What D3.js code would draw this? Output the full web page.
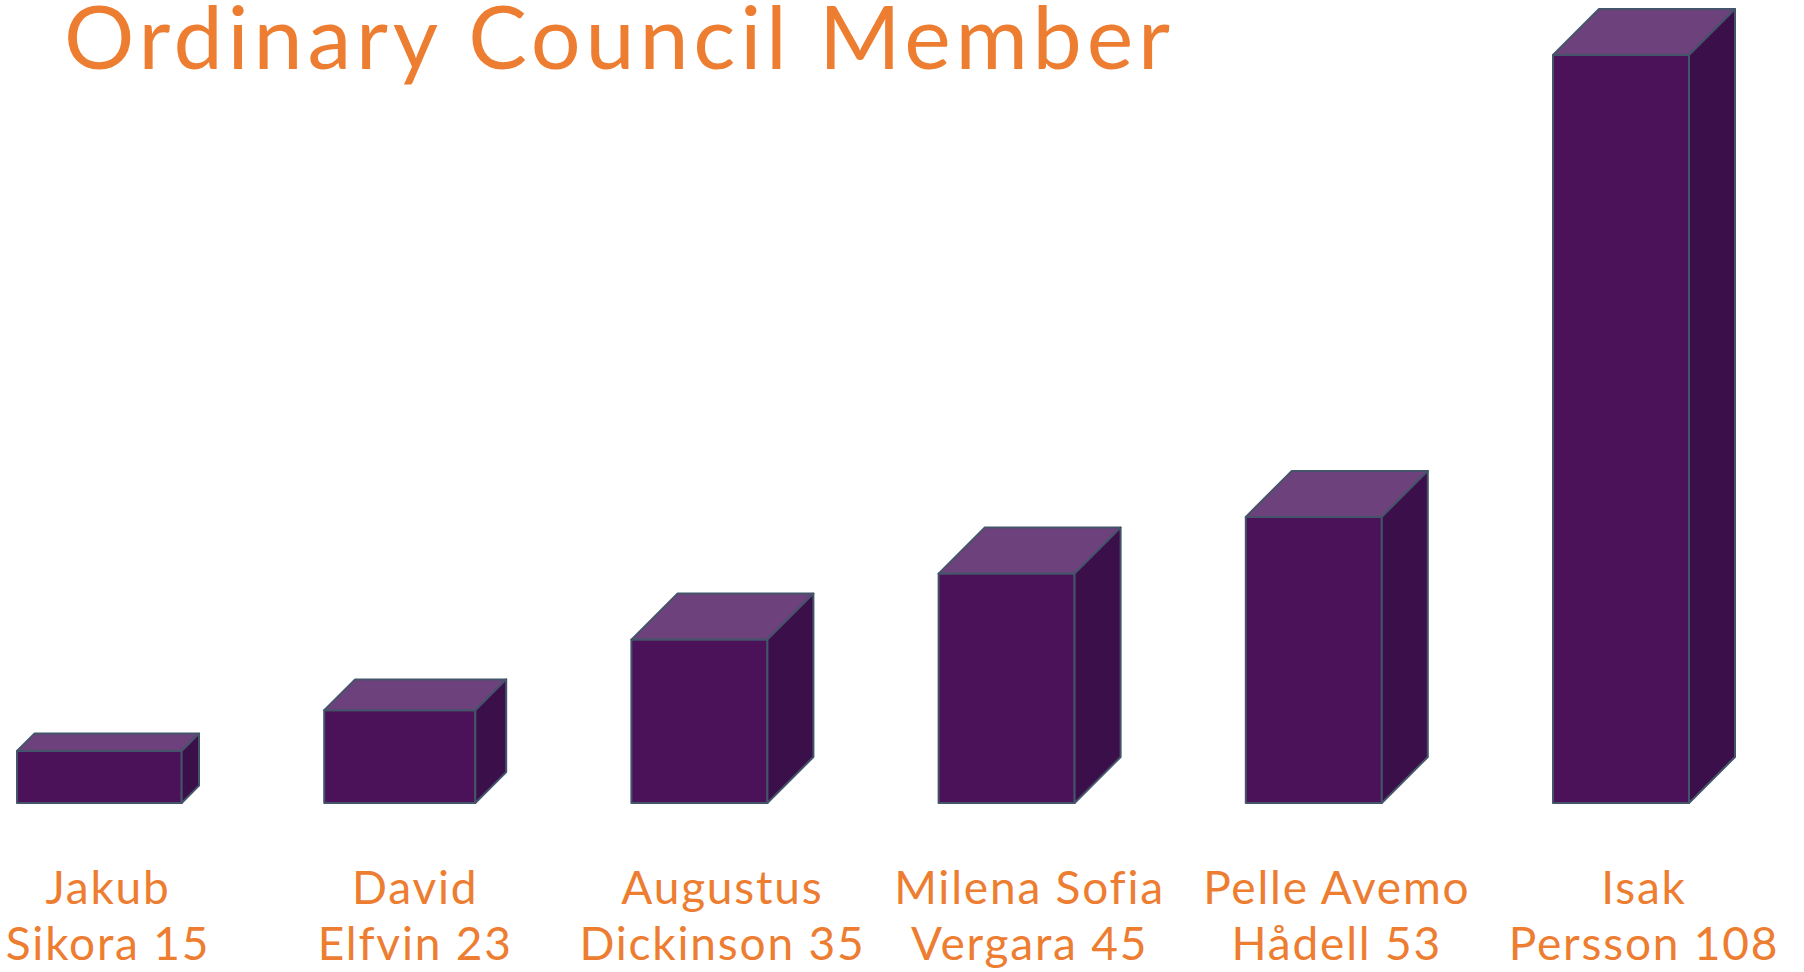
<!DOCTYPE html>
<html>
<head>
<meta charset="utf-8">
<script src="https://cdn.jsdelivr.net/npm/d3@7"></script>
<style>
  body { margin: 0; background: #fff; }
  svg { display: block; }
  .title { font-family: Lato, sans-serif; fill: #ED7D31; }
  .label { font-family: Lato, sans-serif; fill: #ED7D31; text-anchor: middle; letter-spacing: 1.8px; }
  .box path { stroke: #44546A; stroke-width: 2; stroke-linejoin: round; }
</style>
</head>
<body>
<svg class="chart"></svg>
<script>

//
// data
//

var title = "Ordinary Council Member";
var first_names = ["Jakub", "David", "Augustus", "Milena Sofia", "Pelle Avemo", "Isak"];
var last_names = ["Sikora", "Elfvin", "Dickinson", "Vergara", "Hådell", "Persson"];
var votes = [15, 23, 35, 45, 53, 108];



var width = 1804,
    height = 972;

var svg = d3.select(".chart")
    .attr("width", width)
    .attr("height", height);

var base = 803;      // floor line of the boxes
var footprint = 182; // front width + depth

// box centres
var x = d3.scalePoint()
    .domain(d3.range(votes.length))
    .range([108, 1644]);

// box heights (the slide exaggerates the big ones)
var h = d3.scalePow()
    .exponent(1.35)
    .domain([0, d3.max(votes)])
    .range([0, 748]);

function depth(v) {
    return Math.min(46, h(v) / 3);
}

var items = votes.map(function (v, i) {
    return { i: i, v: v, first: first_names[i], last: last_names[i] };
});

//
// boxes
//

var boxes = svg.selectAll("g.box")
    .data(items)
    .enter().append("g")
    .attr("class", "box");

// front face
boxes.append("path")
    .attr("fill", "#4B1259")
    .attr("d", function (d) {
        var dp = depth(d.v), w = footprint - dp;
        var x0 = x(d.i) - footprint / 2, top = base - h(d.v);
        return "M" + x0 + "," + top + "h" + w + "V" + base + "H" + x0 + "Z";
    });

// top face
boxes.append("path")
    .attr("fill", "#6D417B")
    .attr("d", function (d) {
        var dp = depth(d.v), w = footprint - dp;
        var x0 = x(d.i) - footprint / 2, top = base - h(d.v);
        return "M" + x0 + "," + top +
            "L" + (x0 + dp) + "," + (top - dp) +
            "L" + (x0 + w + dp) + "," + (top - dp) +
            "L" + (x0 + w) + "," + top + "Z";
    });

// side face
boxes.append("path")
    .attr("fill", "#3B0F4A")
    .attr("d", function (d) {
        var dp = depth(d.v), w = footprint - dp;
        var x0 = x(d.i) - footprint / 2, top = base - h(d.v);
        return "M" + (x0 + w) + "," + top +
            "L" + (x0 + w + dp) + "," + (top - dp) +
            "L" + (x0 + w + dp) + "," + (base - dp) +
            "L" + (x0 + w) + "," + base + "Z";
    });

//
// labels, two lines each
//

var labels = svg.selectAll("g.label")
    .data(items)
    .enter().append("g")
    .attr("class", "label")
    .attr("transform", function (d) {
        return "translate(" + x(d.i) + ",0)";
    });

labels.append("text")
    .attr("y", 904)
    .attr("font-size", 46)
    .text(function (d) { return d.first; });

labels.append("text")
    .attr("y", 960)
    .attr("font-size", 46)
    .text(function (d) { return d.last + " " + d.v; });

//
// title
//

svg.append("text")
    .attr("class", "title")
    .attr("x", 64)
    .attr("y", 69)
    .attr("font-size", 88)
    .attr("textLength", 1106)
    .attr("lengthAdjust", "spacing")
    .text(title);

</script>
</body>
</html>
